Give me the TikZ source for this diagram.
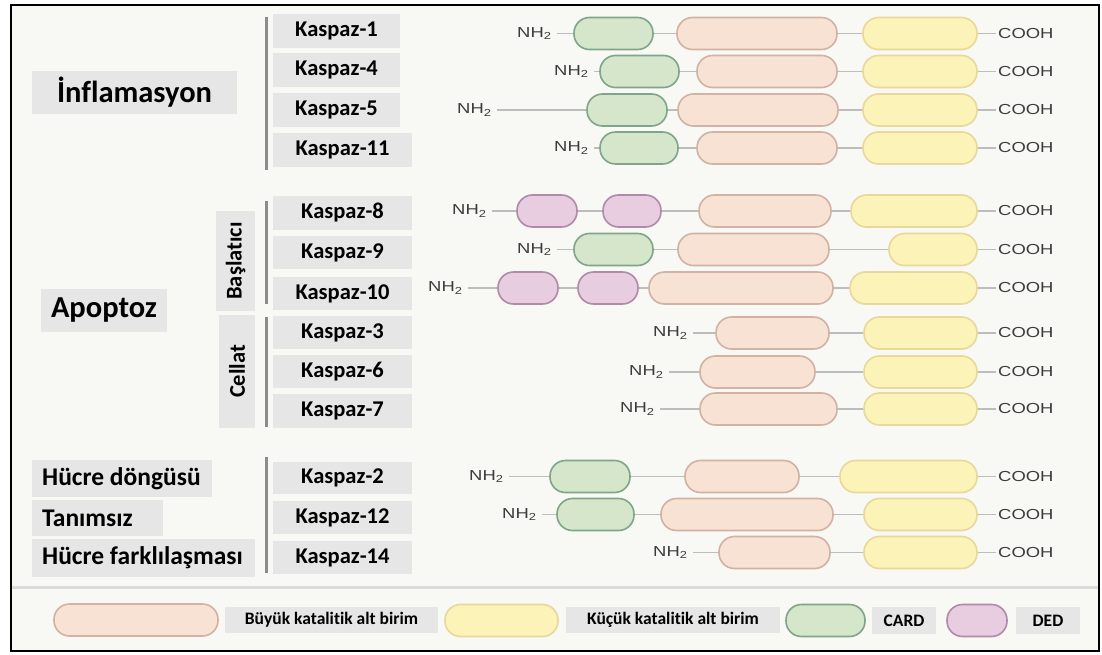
\documentclass[tikz,border=0pt]{standalone}
\usepackage{fontspec}
\setmainfont{Carlito}[Ligatures=NoCommon]
\newfontfamily\chemfont[FakeStretch=1.27]{Liberation Sans}
\definecolor{bgc}{HTML}{F8F8F5}
\definecolor{lblc}{HTML}{E6E6E6}
\definecolor{cardf}{HTML}{D6E6CB}
\definecolor{cards}{HTML}{7FA58A}
\definecolor{peachf}{HTML}{F8E2D4}
\definecolor{peachs}{HTML}{D2B2A4}
\definecolor{yellf}{HTML}{FCF3B8}
\definecolor{yells}{HTML}{E8D89A}
\definecolor{dedf}{HTML}{E8CCE0}
\definecolor{deds}{HTML}{B08AA8}
\definecolor{linkc}{HTML}{BDBDBD}
\definecolor{barc}{HTML}{8C8C8C}
\definecolor{chemc}{HTML}{3C3C3C}
\tikzset{
  pillbase/.style={draw, line width=1.6pt, rounded corners=15.5pt, minimum height=32pt, inner sep=0pt},
  cardpill/.style={pillbase, fill=cardf, draw=cards},
  peachpill/.style={pillbase, fill=peachf, draw=peachs},
  yellpill/.style={pillbase, fill=yellf, draw=yells},
  dedpill/.style={pillbase, fill=dedf, draw=deds},
  link/.style={draw=linkc, line width=1.8pt},
  nhtext/.style={font=\chemfont\fontsize{14.5}{16}\selectfont, text=chemc, inner xsep=5pt, inner ysep=0pt},
  cootext/.style={font=\chemfont\fontsize{14.5}{16}\selectfont, text=chemc, inner xsep=2pt, inner ysep=0pt},
  graybox/.style={fill=lblc, inner sep=0pt, text=black},
  kbox/.style={graybox, font=\fontsize{22.5}{26}\selectfont\bfseries},
  catbox/.style={graybox, font=\fontsize{30.5}{34}\selectfont\bfseries},
  subtext/.style={inner sep=0pt, text=black, font=\fontsize{25.5}{29}\selectfont\bfseries},
  rotbox/.style={graybox, font=\fontsize{22.5}{26}\selectfont\bfseries},
  legbox/.style={graybox, font=\fontsize{17.5}{20}\selectfont\bfseries},
  gbar/.style={draw=barc, line width=3pt},
}
\newcommand\nh[3]{\node[nhtext, anchor=west] (#1) at (#2-5,#3) {NH\textsubscript{2}};}
\newcommand\co[2]{\node[cootext, anchor=west] (#1) at (996,#2) {COOH};}
\newcommand\pl[5]{\node[#2, minimum width={#4-#3}] (#1) at ({(#3+#4)/2},#5) {};}
\newcommand\kb[6]{\node[kbox, minimum width={#3-#2}, minimum height={#5-#4}] (#1) at ({(#2+#3)/2},{(#4+#5)/2}) {#6};}
\newcommand\subbx[6]{\node[graybox, minimum width={#3-#2}, minimum height={#5-#4}] (#1) at ({(#2+#3)/2},{(#4+#5)/2}) {};
  \node[subtext, anchor=west] (#1t) at (42,{(#4+#5)/2}) {#6};}
\begin{document}
\begin{tikzpicture}[x=1pt,y=-1pt]
\useasboundingbox (0,0) rectangle (1102,655);
\fill[white] (0,0) rectangle (1102,655);
\draw[line width=2pt, fill=bgc] (11,5) rectangle (1099,651);
\draw[draw=black!14, line width=3pt] (12,587) -- (1098,587);

% vertical bars
\coordinate (b1t) at (266,17); \coordinate (b1b) at (266,170);
\coordinate (b2t) at (266,201); \coordinate (b2b) at (266,304);
\coordinate (b3t) at (266,317); \coordinate (b3b) at (266,427);
\coordinate (b4t) at (266,457); \coordinate (b4b) at (266,573);
\draw[gbar] (b1t) -- (b1b) (b2t) -- (b2b) (b3t) -- (b3b) (b4t) -- (b4b);

% category boxes
\node[catbox, minimum width=205, minimum height=43] (infl) at (134.5,92.5) {İnflamasyon};
\node[catbox, minimum width=126, minimum height=43] (apop) at (104,310.5) {Apoptoz};
\node[rotbox, rotate=90, minimum width=100, minimum height=39] (basl) at (235.5,261) {Başlatıcı};
\node[rotbox, rotate=90, minimum width=113, minimum height=36] (cell) at (237,371.5) {Cellat};
\subbx{hd}{32}{212}{460}{497}{Hücre döngüsü}
\subbx{tn}{32}{163}{500}{536}{Tanımsız}
\subbx{hf}{32}{255}{539}{577}{Hücre farklılaşması}

% kaspaz boxes
\kb{k1}{273}{400}{14}{48}{Kaspaz-1}
\kb{k4}{273}{400}{53}{87}{Kaspaz-4}
\kb{k5}{273}{400}{93}{127}{Kaspaz-5}
\kb{k11}{273}{412}{133}{167}{Kaspaz-11}
\kb{k8}{273}{412}{196}{230}{Kaspaz-8}
\kb{k9}{273}{412}{236}{269}{Kaspaz-9}
\kb{k10}{273}{412}{277}{310}{Kaspaz-10}
\kb{k3}{273}{412}{316}{349}{Kaspaz-3}
\kb{k6}{273}{412}{355}{388}{Kaspaz-6}
\kb{k7}{273}{412}{394}{428}{Kaspaz-7}
\kb{k2}{273}{412}{462}{494}{Kaspaz-2}
\kb{k12}{273}{412}{501}{534}{Kaspaz-12}
\kb{k14}{273}{412}{541}{574}{Kaspaz-14}

% row 1 Kaspaz-1
\nh{n1}{517}{33.5}
\pl{c1}{cardpill}{574}{653}{33.5}
\pl{p1}{peachpill}{677}{837}{33.5}
\pl{y1}{yellpill}{863}{977}{33.5}
\co{o1}{33.5}
\draw[link] (n1.east) -- (c1.west) (c1.east) -- (p1.west) (p1.east) -- (y1.west) (y1.east) -- (o1.west);
% row 2 Kaspaz-4
\nh{n2}{554}{71.5}
\pl{c2}{cardpill}{600}{679}{71.5}
\pl{p2}{peachpill}{697}{837}{71.5}
\pl{y2}{yellpill}{863}{977}{71.5}
\co{o2}{71.5}
\draw[link] (n2.east) -- (c2.west) (c2.east) -- (p2.west) (p2.east) -- (y2.west) (y2.east) -- (o2.west);
% row 3 Kaspaz-5
\nh{n3}{457}{110}
\pl{c3}{cardpill}{587}{667}{110}
\pl{p3}{peachpill}{678}{838}{110}
\pl{y3}{yellpill}{863}{977}{110}
\co{o3}{110}
\draw[link] (n3.east) -- (c3.west) (c3.east) -- (p3.west) (p3.east) -- (y3.west) (y3.east) -- (o3.west);
% row 4 Kaspaz-11
\nh{n4}{554}{148}
\pl{c4}{cardpill}{600}{678}{148}
\pl{p4}{peachpill}{697}{837}{148}
\pl{y4}{yellpill}{863}{977}{148}
\co{o4}{148}
\draw[link] (n4.east) -- (c4.west) (c4.east) -- (p4.west) (p4.east) -- (y4.west) (y4.east) -- (o4.west);
% row 5 Kaspaz-8
\nh{n5}{452}{211}
\pl{d5}{dedpill}{517}{577}{211}
\pl{e5}{dedpill}{603}{661}{211}
\pl{p5}{peachpill}{699}{831}{211}
\pl{y5}{yellpill}{851}{977}{211}
\co{o5}{211}
\draw[link] (n5.east) -- (d5.west) (d5.east) -- (e5.west) (e5.east) -- (p5.west) (p5.east) -- (y5.west) (y5.east) -- (o5.west);
% row 6 Kaspaz-9
\nh{n6}{517}{249.5}
\pl{c6}{cardpill}{574}{653}{249.5}
\pl{p6}{peachpill}{678}{829}{249.5}
\pl{y6}{yellpill}{889}{977}{249.5}
\co{o6}{249.5}
\draw[link] (n6.east) -- (c6.west) (c6.east) -- (p6.west) (p6.east) -- (y6.west) (y6.east) -- (o6.west);
% row 7 Kaspaz-10
\nh{n7}{428}{288}
\pl{d7}{dedpill}{498}{558}{288}
\pl{e7}{dedpill}{578}{638}{288}
\pl{p7}{peachpill}{649}{833}{288}
\pl{y7}{yellpill}{850}{977}{288}
\co{o7}{288}
\draw[link] (n7.east) -- (d7.west) (d7.east) -- (e7.west) (e7.east) -- (p7.west) (p7.east) -- (y7.west) (y7.east) -- (o7.west);
% row 8 Kaspaz-3
\nh{n8}{653}{333}
\pl{p8}{peachpill}{716}{829}{333}
\pl{y8}{yellpill}{864}{977}{333}
\co{o8}{333}
\draw[link] (n8.east) -- (p8.west) (p8.east) -- (y8.west) (y8.east) -- (o8.west);
% row 9 Kaspaz-6
\nh{n9}{629}{372}
\pl{p9}{peachpill}{700}{815}{372}
\pl{y9}{yellpill}{864}{977}{372}
\co{o9}{372}
\draw[link] (n9.east) -- (p9.west) (p9.east) -- (y9.west) (y9.east) -- (o9.west);
% row 10 Kaspaz-7
\nh{n10}{620}{409}
\pl{p10}{peachpill}{700}{837}{409}
\pl{y10}{yellpill}{864}{977}{409}
\co{o10}{409}
\draw[link] (n10.east) -- (p10.west) (p10.east) -- (y10.west) (y10.east) -- (o10.west);
% row 11 Kaspaz-2
\nh{n11}{469}{476.5}
\pl{c11}{cardpill}{550}{630}{476.5}
\pl{p11}{peachpill}{685}{799}{476.5}
\pl{y11}{yellpill}{840}{977}{476.5}
\co{o11}{476.5}
\draw[link] (n11.east) -- (c11.west) (c11.east) -- (p11.west) (p11.east) -- (y11.west) (y11.east) -- (o11.west);
% row 12 Kaspaz-12
\nh{n12}{502}{514.5}
\pl{c12}{cardpill}{557}{634}{514.5}
\pl{p12}{peachpill}{661}{833}{514.5}
\pl{y12}{yellpill}{864}{977}{514.5}
\co{o12}{514.5}
\draw[link] (n12.east) -- (c12.west) (c12.east) -- (p12.west) (p12.east) -- (y12.west) (y12.east) -- (o12.west);
% row 13 Kaspaz-14
\nh{n13}{653}{552.5}
\pl{p13}{peachpill}{719}{830}{552.5}
\pl{y13}{yellpill}{864}{977}{552.5}
\co{o13}{552.5}
\draw[link] (n13.east) -- (p13.west) (p13.east) -- (y13.west) (y13.east) -- (o13.west);

% legend
\pl{lp}{peachpill}{54}{218}{620}
\node[legbox, minimum width=213, minimum height=26] (lpt) at (331.5,620) {Büyük katalitik alt birim};
\pl{ly}{yellpill}{445}{558}{620.5}
\node[legbox, minimum width=214, minimum height=26] (lyt) at (673,620) {Küçük katalitik alt birim};
\pl{lc}{cardpill}{786}{865}{620.5}
\node[legbox, minimum width=64, minimum height=27] (lct) at (904,620.5) {CARD};
\pl{ld}{dedpill}{947}{1007}{620.5}
\node[legbox, minimum width=64, minimum height=27] (ldt) at (1048,620.5) {DED};
\end{tikzpicture}
\end{document}
